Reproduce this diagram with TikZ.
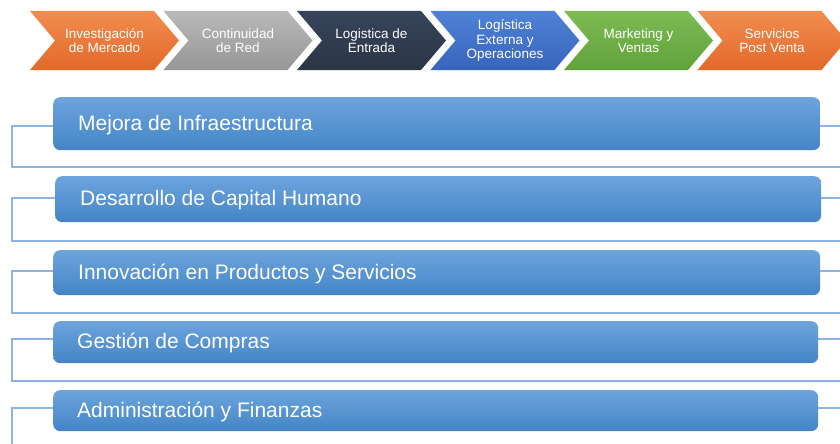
\documentclass[tikz,border=0pt]{standalone}
\usepackage{fontspec}
\setmainfont{Liberation Sans}
\definecolor{orTop}{HTML}{F18D4F}
\definecolor{orBot}{HTML}{E2692A}
\definecolor{grTop}{HTML}{B9B9B9}
\definecolor{grBot}{HTML}{969696}
\definecolor{nvTop}{HTML}{37445A}
\definecolor{nvBot}{HTML}{2B3546}
\definecolor{blTop}{HTML}{4F82D7}
\definecolor{blBot}{HTML}{3864BC}
\definecolor{gnTop}{HTML}{7DBB53}
\definecolor{gnBot}{HTML}{62A23B}
\definecolor{barTop}{HTML}{6DA4DC}
\definecolor{barBot}{HTML}{4485C7}
\definecolor{lineBlue}{HTML}{8EB5E2}
\newcommand{\mychev}[5]{%
  \shade[top color=#2,bottom color=#3] (#1,11) -- ++(124,0) -- ++(25,29.5) -- ++(-25,29.5) -- ++(-124,0) -- ++(25,-29.5) -- cycle;
  \node[chevtext] (#4) at (#1+74.5,40.5) {#5};
}
\begin{document}
\begin{tikzpicture}[x=1pt,y=-1pt,
  bar/.style={rectangle, rounded corners=7pt, top color=barTop, bottom color=barBot, draw=none, anchor=north west, inner sep=0pt},
  bartext/.style={text=white, font=\fontsize{21}{25}\selectfont, anchor=base west, inner sep=0pt},
  bracket/.style={draw=lineBlue, line width=1.3pt},
  chevtext/.style={text=white, align=center, font=\fontsize{13.5}{14.5}\selectfont, inner sep=0pt}]
\useasboundingbox (0,0) rectangle (840,444);
\fill[white] (0,0) rectangle (840,444);

% chevrons
\mychev{30}{orTop}{orBot}{c1}{Investigación\\de Mercado}
\mychev{163.5}{grTop}{grBot}{c2}{Continuidad\\de Red}
\mychev{297}{nvTop}{nvBot}{c3}{Logistica de\\Entrada}
\mychev{430.5}{blTop}{blBot}{c4}{Logística\\Externa y\\Operaciones}
\mychev{564}{gnTop}{gnBot}{c5}{Marketing y\\Ventas}
\mychev{697.5}{orTop}{orBot}{c6}{Servicios\\Post Venta}

% bars
\node[bar, minimum width=767pt, minimum height=53pt] (b1) at (53,97) {};
\node[bar, minimum width=766pt, minimum height=46pt] (b2) at (55,176) {};
\node[bar, minimum width=767pt, minimum height=45pt] (b3) at (53,250) {};
\node[bar, minimum width=765pt, minimum height=42pt] (b4) at (53,321) {};
\node[bar, minimum width=765pt, minimum height=41pt] (b5) at (53,390) {};

\node[bartext] (t1) at (78,130.5) {Mejora de Infraestructura};
\node[bartext] (t2) at (80,205.5) {Desarrollo de Capital Humano};
\node[bartext] (t3) at (78,279) {Innovación en Productos y Servicios};
\node[bartext] (t4) at (77,348.5) {Gestión de Compras};
\node[bartext] (t5) at (77,417) {Administración y Finanzas};

% brackets
\coordinate (k1) at (12,126); \coordinate (e1) at (845,167);
\coordinate (k2) at (12,198); \coordinate (e2) at (845,241);
\coordinate (k3) at (12,271); \coordinate (e3) at (845,313);
\coordinate (k4) at (12,339); \coordinate (e4) at (845,381);
\coordinate (k5) at (12,408); \coordinate (e5) at (845,452);
\foreach \i in {1,...,5}{
  \draw[bracket] (b\i.west |- k\i) -- (k\i) |- (e\i);
  \draw[bracket] (b\i.east |- k\i) -- (e\i |- k\i);
}
\end{tikzpicture}
\end{document}
